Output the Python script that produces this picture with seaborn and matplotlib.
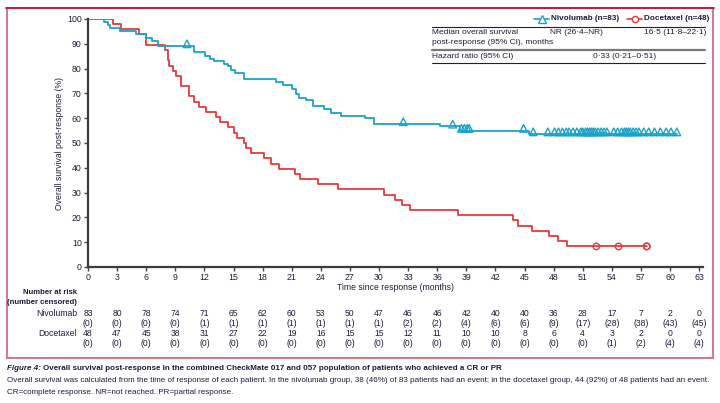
import numpy as np
import pandas as pd
import matplotlib
matplotlib.use("Agg")
import matplotlib.pyplot as plt
import matplotlib.transforms as mtrans
from matplotlib.lines import Line2D
from matplotlib.patches import Rectangle
import seaborn as sns

# ---------------- data ----------------
nivo_times = [0, 1.6, 2.1, 2.3, 3.3, 4.9, 6.0, 6.6, 7.2, 10.9, 12.1, 12.6, 13.0, 14.0, 14.4,
              14.7, 15.2, 16.1, 19.4, 20.1, 21.0, 21.4, 21.8, 22.5, 23.2, 24.3, 25.0, 26.1,
              28.6, 29.5, 36.3, 38.4, 45.5]
nivo_surv = [100, 98.8, 97.6, 96.4, 95.2, 94.0, 92.5, 91.3, 89.1, 86.5, 85.2, 83.9, 82.9, 81.9,
             80.9, 79.6, 78.3, 76.0, 74.7, 73.2, 71.9, 69.8, 68.3, 67.2, 64.8, 63.6, 62.2, 61.0,
             60.0, 57.7, 56.7, 55.0, 53.6]
nivo_censor = [10.2, 32.5, 37.6, 38.5, 38.8, 39.1, 39.3, 44.9, 45.9, 47.4,
               48.1, 48.5, 48.9, 49.3, 49.6, 50.0, 50.4, 50.8,
               51.0, 51.3, 51.5, 51.7, 51.9, 52.1, 52.3, 52.6, 52.9, 53.2, 53.5,
               54.2, 54.6, 55.0, 55.3, 55.5, 55.7, 55.9, 56.2, 56.5, 56.8,
               57.3, 57.8, 58.4, 59.0, 59.6, 60.1, 60.7]
nivo_end = 60.7

doce_times = [0, 2.6, 3.4, 5.3, 6.0, 7.9, 8.2, 8.4, 8.8, 9.1, 9.6, 10.45, 10.9, 11.45, 12.15,
              13.2, 13.6, 14.4, 15.05, 15.4, 16.1, 16.3, 16.8, 18.1, 18.85, 19.7, 21.3, 21.9,
              23.7, 25.8, 30.5, 31.6, 32.4, 33.2, 38.1, 43.8, 44.3, 45.8, 47.5, 48.5, 49.35]
doce_surv = [100, 97.9, 95.8, 93.8, 89.6, 87.5, 83.3, 81.2, 79.2, 77.1, 72.9, 68.8, 66.7, 64.6,
             62.5, 60.4, 58.3, 56.3, 54.2, 52.1, 50.0, 47.9, 45.8, 43.8, 41.7, 39.6, 37.5, 35.4,
             33.3, 31.3, 29.2, 27.1, 25.0, 22.9, 20.8, 18.8, 16.7, 14.6, 12.5, 10.4, 8.3]
doce_censor = [52.4, 54.7, 57.6, 57.6]
doce_end = 57.6

risk_times = list(range(0, 64, 3))
nivo_risk = [83, 80, 78, 74, 71, 65, 62, 60, 53, 50, 47, 46, 46, 42, 40, 40, 36, 28, 17, 7, 2, 0]
nivo_cens = [0, 0, 0, 0, 1, 1, 1, 1, 1, 1, 1, 2, 2, 4, 6, 6, 9, 17, 28, 38, 43, 45]
doce_risk = [48, 47, 45, 38, 31, 27, 22, 19, 16, 15, 15, 12, 11, 10, 10, 8, 6, 4, 3, 2, 0, 0]
doce_cens = [0, 0, 0, 0, 0, 0, 0, 0, 0, 0, 0, 0, 0, 0, 0, 0, 0, 0, 1, 2, 4, 4]

y_ticks = list(range(0, 101, 10))

BLUE = "#1aa3c9"
RED = "#e8393a"
TXT = "#1c1c3a"

# ---------------- figure ----------------
sns.set_theme(style="white")
plt.rcParams["font.family"] = ["Liberation Sans", "DejaVu Sans"]
plt.rcParams["text.color"] = TXT
plt.rcParams["xtick.color"] = TXT
plt.rcParams["ytick.color"] = TXT

W, H = 720, 403
fig = plt.figure(figsize=(W / 100, H / 100), dpi=100)
fig.patch.set_facecolor("white")

def fx(px):
    return px / W

def fy(py):
    return 1 - py / H

ax_l, ax_r, ax_t, ax_b = 88, 703, 19, 267
ax = fig.add_axes([fx(ax_l), fy(ax_b), fx(ax_r - ax_l), (ax_b - ax_t) / H])


def km_frame(times, surv, end):
    t = list(times) + [end]
    s = list(surv) + [surv[-1]]
    return pd.DataFrame({"time": t, "surv": s})


def censor_frame(times, surv, cens):
    t = np.asarray(times)
    s = np.asarray(surv)
    idx = np.searchsorted(t, cens, side="right") - 1
    return pd.DataFrame({"time": cens, "surv": s[idx]})


nivo_df = km_frame(nivo_times, nivo_surv, nivo_end)
doce_df = km_frame(doce_times, doce_surv, doce_end)

sns.lineplot(data=doce_df, x="time", y="surv", ax=ax, color=RED, lw=1.3,
             drawstyle="steps-post", estimator=None, sort=False)
sns.lineplot(data=nivo_df, x="time", y="surv", ax=ax, color=BLUE, lw=1.3,
             drawstyle="steps-post", estimator=None, sort=False)

nc = censor_frame(nivo_times, nivo_surv, nivo_censor)
dc = censor_frame(doce_times, doce_surv, doce_censor)
ax.scatter(nc["time"], nc["surv"] + 0.9, marker="^", s=30, facecolors="none",
           edgecolors=BLUE, linewidths=1.0, zorder=5, clip_on=False)
ax.scatter(dc["time"], dc["surv"], marker="o", s=22, facecolors="none",
           edgecolors=RED, linewidths=1.0, zorder=5, clip_on=False)

ax.set_xlim(0, 63.4)
ax.set_ylim(0, 100)
ax.set_xticks(risk_times)
ax.set_yticks(y_ticks)
ax.tick_params(axis="both", direction="out", length=3, width=1, color="#444444",
               labelsize=6.3, pad=1.5, bottom=True, left=True)
ax.set_xlabel("")
ax.set_ylabel("")
for side in ["top", "right"]:
    ax.spines[side].set_visible(False)
for side in ["left", "bottom"]:
    ax.spines[side].set_color("#3c3c3c")
    ax.spines[side].set_linewidth(1.6)

fig.text(fx(60), fy(143), "Overall survival post-response (%)", rotation=90,
         ha="center", va="center", fontsize=6.2)
fig.text(fx(395), fy(288), "Time since response (months)", ha="center", va="center",
         fontsize=6.2)

# ---------------- legend / table ----------------
def hline(x0, x1, y, color="#222222", lw=0.8):
    fig.add_artist(Line2D([fx(x0), fx(x1)], [fy(y), fy(y)], color=color, lw=lw))

fig.add_artist(Line2D([fx(534), fx(549)], [fy(19), fy(19)], color=BLUE, lw=1.2))
fig.add_artist(Line2D([fx(541.5)], [fy(19)], color=BLUE, marker="^", ms=5.5,
                      mfc="white", mec=BLUE, mew=1.0))
fig.text(fx(551), fy(19), "Nivolumab (n=83)", ha="left", va="center", fontsize=5.9,
         fontweight="bold")
fig.add_artist(Line2D([fx(627), fx(642)], [fy(19), fy(19)], color=RED, lw=1.2))
fig.add_artist(Line2D([fx(634.5)], [fy(19)], color=RED, marker="o", ms=4.5,
                      mfc="white", mec=RED, mew=1.0))
fig.text(fx(644), fy(19), "Docetaxel (n=48)", ha="left", va="center", fontsize=5.9,
         fontweight="bold")

hline(432, 705, 27, "#222222", 0.8)
fig.text(fx(432), fy(33), "Median overall survival", ha="left", va="center", fontsize=6.0)
fig.text(fx(432), fy(43), "post-response (95% CI), months", ha="left", va="center",
         fontsize=6.0)
fig.text(fx(550), fy(33), "NR (26·4–NR)", ha="left", va="center", fontsize=6.0)
fig.text(fx(644), fy(33), "16·5 (11·8–22·1)", ha="left", va="center", fontsize=6.0)
hline(432, 705, 50, "#777777", 1.6)
fig.text(fx(432), fy(57), "Hazard ratio (95% CI)", ha="left", va="center", fontsize=6.0)
fig.text(fx(593), fy(57), "0·33 (0·21–0·51)", ha="left", va="center", fontsize=6.0)
hline(432, 705, 63, "#222222", 0.8)

# ---------------- number at risk ----------------
tr = mtrans.blended_transform_factory(ax.transData, fig.transFigure)
fig.text(fx(77), fy(293), "Number at risk", ha="right", va="center", fontsize=5.6,
         fontweight="bold")
fig.text(fx(77), fy(303), "(number censored)", ha="right", va="center", fontsize=5.6,
         fontweight="bold")
fig.text(fx(77), fy(314), "Nivolumab", ha="right", va="center", fontsize=6.2)
fig.text(fx(77), fy(334), "Docetaxel", ha="right", va="center", fontsize=6.2)
for t, n1, c1, n2, c2 in zip(risk_times, nivo_risk, nivo_cens, doce_risk, doce_cens):
    ax.text(t, fy(314), str(n1), transform=tr, ha="center", va="center", fontsize=6.2)
    ax.text(t, fy(323), f"({c1})", transform=tr, ha="center", va="center", fontsize=6.2)
    ax.text(t, fy(334), str(n2), transform=tr, ha="center", va="center", fontsize=6.2)
    ax.text(t, fy(343), f"({c2})", transform=tr, ha="center", va="center", fontsize=6.2)

# ---------------- frame ----------------
fig.add_artist(Rectangle((fx(7), fy(358)), fx(713 - 7), (358 - 8) / H, fill=False,
                         edgecolor="#d27a93", lw=1.5, transform=fig.transFigure))
fig.add_artist(Line2D([fx(6), fx(714)], [fy(8), fy(8)], color="#c8103a", lw=1.3))

# ---------------- caption ----------------
fig.text(fx(7), fy(368), "Figure 4:", ha="left", va="center", fontsize=5.8,
         fontweight="bold", fontstyle="italic")
fig.text(fx(43), fy(368),
         "Overall survival post-response in the combined CheckMate 017 and 057 population "
         "of patients who achieved a CR or PR",
         ha="left", va="center", fontsize=5.8, fontweight="bold")
fig.text(fx(7), fy(381),
         "Overall survival was calculated from the time of response of each patient. In the "
         "nivolumab group, 38 (46%) of 83 patients had an event; in the docetaxel group, 44 "
         "(92%) of 48 patients had an event.",
         ha="left", va="center", fontsize=5.75)
fig.text(fx(7), fy(393), "CR=complete response. NR=not reached. PR=partial response.",
         ha="left", va="center", fontsize=5.75)

fig.savefig("out.png", dpi=100, facecolor="white")
